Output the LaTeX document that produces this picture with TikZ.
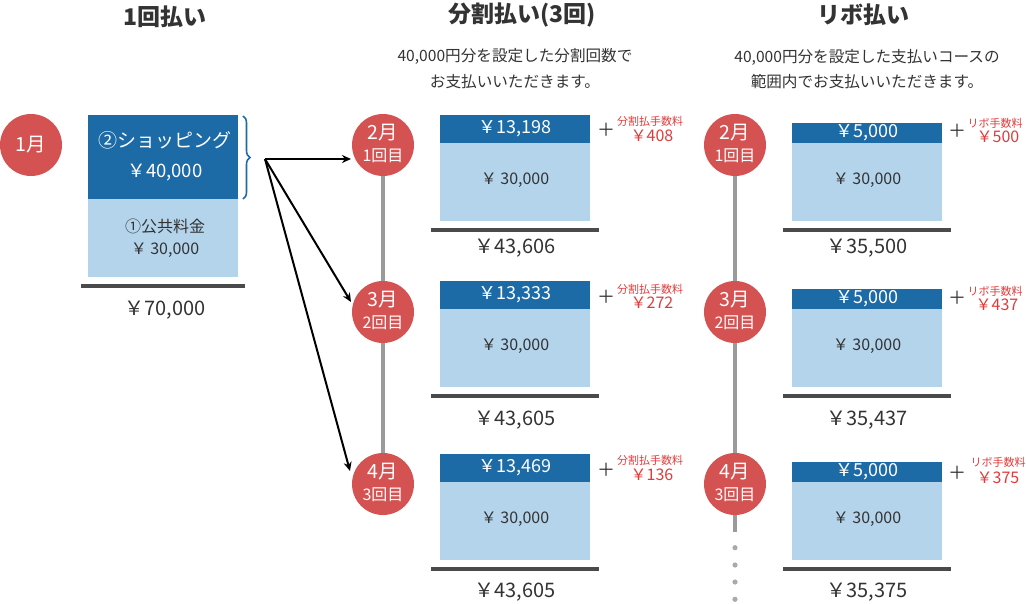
\documentclass[tikz,border=0pt]{standalone}
\usepackage{fontspec}
\setmainfont{Noto Sans CJK JP}
\usetikzlibrary{calc,decorations.pathreplacing,arrows.meta}
\definecolor{dblue}{HTML}{1C6BA7}
\definecolor{lblue}{HTML}{B4D4EC}
\definecolor{cred}{HTML}{D45352}
\definecolor{tred}{HTML}{E03B3B}
\definecolor{barc}{HTML}{4A4A4A}
\definecolor{linec}{HTML}{9B9B9B}
\definecolor{txt}{HTML}{333333}
\newcommand{\fsz}[1]{\fontsize{#1}{#1}\selectfont}
\tikzset{
  dk/.style={fill=dblue, draw=none, minimum width=150, inner sep=0, anchor=north west},
  lt/.style={fill=lblue, draw=none, minimum width=150, inner sep=0, anchor=north west},
  mon/.style={circle, fill=cred, minimum size=62, inner sep=0},
  mt/.style={text=white, inner sep=0, font=\fsz{19.5}},
  ct/.style={text=white, inner sep=0, font=\fsz{16}},
  bar/.style={line width=4, barc},
  tl/.style={text=txt, inner sep=0, font=\fsz{23}\bfseries},
  sub/.style={text=txt, inner sep=0, font=\fsz{15.6}},
  wt/.style={text=white, inner sep=0},
  dt/.style={text=txt, inner sep=0},
  rd/.style={text=tred, inner sep=0},
  pl/.style={text=txt, inner sep=0, font=\fsz{18}},
  arr/.style={line width=2, black, -{Stealth[length=9,width=8]}},
  vl/.style={line width=4, linec},
}
\begin{document}
\begin{tikzpicture}[x=1pt,y=-1pt]
\useasboundingbox (0,0) rectangle (1026,604);
% titles
\node[tl] at (165,17) {1回払い};
\node[tl] at (522,15) {分割払い(3回)};
\node[tl] at (863,15) {リボ払い};
\node[sub] at (515,56) {40,000円分を設定した分割回数で};
\node[sub] at (515,82) {お支払いいただきます。};
\node[sub] at (867,57) {40,000円分を設定した支払いコースの};
\node[sub] at (867,82) {範囲内でお支払いいただきます。};

% left column
\node[mon] (c1) at (31,145) {};
\node[mt] at (c1) {1月};
\node[dk, minimum height=84] (s) at (88,115) {};
\node[lt, minimum height=78] (p) at (88,199) {};
\node[wt, font=\fsz{19}] at (165,140) {②ショッピング};
\node[wt, font=\fsz{18.5}] at (165,173) {￥40,000};
\node[dt, font=\fsz{16}] at (165,226) {①公共料金};
\node[dt, font=\fsz{16}] at (165,250) {￥ 30,000};
\draw[bar] (81,286) -- (245,286);
\node[dt, font=\fsz{20}] at (165,310) {￥70,000};
\draw[dblue, line width=1.6, decorate, decoration={brace, amplitude=7}] (243,116) -- (243,199);
\coordinate (o) at (265,159);

% middle column
\draw[vl] (383,145) -- (383,484);
\node[mon] (c2) at (383,145) {};
\node[mon] (c3) at (383,312) {};
\node[mon] (c4) at (383,484) {};
\node[mt] at ($(c2)+(0,-12)$) {2月};
\node[ct] at ($(c2)+(0,11)$) {1回目};
\node[mt] at ($(c3)+(0,-12)$) {3月};
\node[ct] at ($(c3)+(0,11)$) {2回目};
\node[mt] at ($(c4)+(0,-12)$) {4月};
\node[ct] at ($(c4)+(0,11)$) {3回目};
\draw[arr] (o) -- ($(c2.center)+(-32,14)$);
\draw[arr] (o) -- ($(c3.center)+(-32,-10)$);
\draw[arr] (o) -- ($(c4.center)+(-33,-13)$);

% box 1
\node[dk, minimum height=28] (m1a) at (440,115) {};
\node[lt, minimum height=78] (m1b) at (440,143) {};
\node[wt, font=\fsz{18}] at (515,129) {￥13,198};
\node[dt, font=\fsz{16}] at (515,180) {￥ 30,000};
\draw[bar] (431,230) -- (599,230);
\node[dt, font=\fsz{20}] at (515,248) {￥43,606};
\node[pl] at (606,130) {＋};
\node[rd, font=\fsz{11}] at (650,121) {分割払手数料};
\node[rd, font=\fsz{16}] at (652,136) {￥408};
% box 2
\node[dk, minimum height=28] (m2a) at (440,281) {};
\node[lt, minimum height=78] (m2b) at (440,309) {};
\node[wt, font=\fsz{18}] at (515,295) {￥13,333};
\node[dt, font=\fsz{16}] at (515,346) {￥ 30,000};
\draw[bar] (431,396) -- (599,396);
\node[dt, font=\fsz{20}] at (515,420) {￥43,605};
\node[pl] at (606,297) {＋};
\node[rd, font=\fsz{11}] at (650,289) {分割払手数料};
\node[rd, font=\fsz{16}] at (652,303) {￥272};
% box 3
\node[dk, minimum height=28] (m3a) at (440,454) {};
\node[lt, minimum height=78] (m3b) at (440,482) {};
\node[wt, font=\fsz{18}] at (515,468) {￥13,469};
\node[dt, font=\fsz{16}] at (515,519) {￥ 30,000};
\draw[bar] (431,569) -- (599,569);
\node[dt, font=\fsz{20}] at (515,592) {￥43,605};
\node[pl] at (606,470) {＋};
\node[rd, font=\fsz{11}] at (650,460) {分割払手数料};
\node[rd, font=\fsz{16}] at (652,475) {￥136};

% right column
\draw[vl] (735,145) -- (735,532);
\foreach \yy in {547.7,565,582,599.3}{\fill[linec!85] (735,\yy) circle (2.6);}
\node[mon] (r2) at (735,145) {};
\node[mon] (r3) at (735,312) {};
\node[mon] (r4) at (735,484) {};
\node[mt] at ($(r2)+(0,-12)$) {2月};
\node[ct] at ($(r2)+(0,11)$) {1回目};
\node[mt] at ($(r3)+(0,-12)$) {3月};
\node[ct] at ($(r3)+(0,11)$) {2回目};
\node[mt] at ($(r4)+(0,-12)$) {4月};
\node[ct] at ($(r4)+(0,11)$) {3回目};
% box 1
\node[dk, minimum height=20] (n1a) at (792,123) {};
\node[lt, minimum height=78] (n1b) at (792,143) {};
\node[wt, font=\fsz{18}] at (867,133) {￥5,000};
\node[dt, font=\fsz{16}] at (867,180) {￥ 30,000};
\draw[bar] (783,230) -- (951,230);
\node[dt, font=\fsz{20}] at (867,248) {￥35,500};
\node[pl] at (957,131) {＋};
\node[rd, font=\fsz{11}] at (995,123) {リボ手数料};
\node[rd, font=\fsz{16}] at (998,137) {￥500};
% box 2
\node[dk, minimum height=20] (n2a) at (792,289) {};
\node[lt, minimum height=78] (n2b) at (792,309) {};
\node[wt, font=\fsz{18}] at (867,299) {￥5,000};
\node[dt, font=\fsz{16}] at (867,346) {￥ 30,000};
\draw[bar] (783,396) -- (951,396);
\node[dt, font=\fsz{20}] at (867,420) {￥35,437};
\node[pl] at (957,298) {＋};
\node[rd, font=\fsz{11}] at (995,291) {リボ手数料};
\node[rd, font=\fsz{16}] at (997,305) {￥437};
% box 3
\node[dk, minimum height=20] (n3a) at (792,462) {};
\node[lt, minimum height=78] (n3b) at (792,482) {};
\node[wt, font=\fsz{18}] at (867,472) {￥5,000};
\node[dt, font=\fsz{16}] at (867,519) {￥ 30,000};
\draw[bar] (783,569) -- (951,569);
\node[dt, font=\fsz{20}] at (867,592) {￥35,375};
\node[pl] at (957,473) {＋};
\node[rd, font=\fsz{11}] at (998,462) {リボ手数料};
\node[rd, font=\fsz{16}] at (998,478) {￥375};
\end{tikzpicture}
\end{document}
